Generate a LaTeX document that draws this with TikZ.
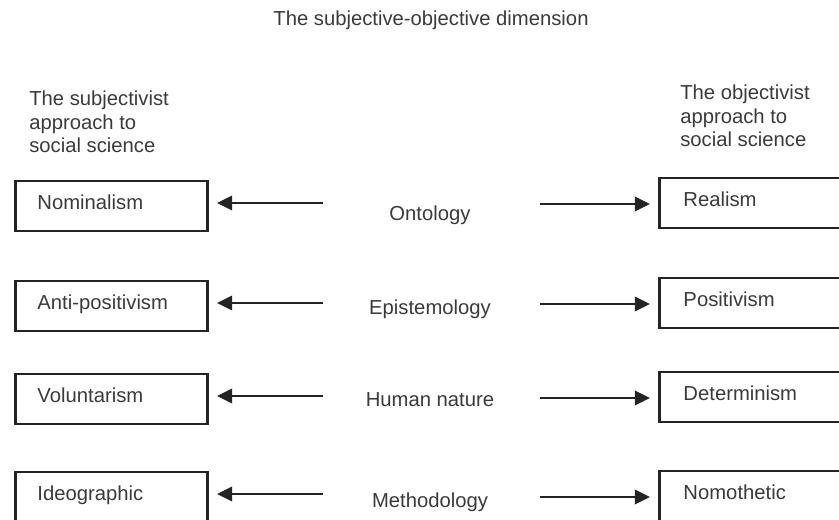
\documentclass[tikz,border=0pt]{standalone}
\usepackage{fontspec}
\setmainfont{Liberation Sans}
\usetikzlibrary{arrows.meta}

\begin{document}
\begin{tikzpicture}[x=0.025cm,y=-0.025cm,
  every node/.style={text=inkgrey,font=\fontsize{14.4}{16.7}\selectfont},
  lbox/.style={draw=linegrey,line width=2.1pt,anchor=west,minimum height=1.25cm,
    text width=3.7cm,inner xsep=0.55cm,align=left,text height=0.75em,text depth=0.25em},
  rbox/.style={lbox,text width=4cm,inner xsep=0.6cm},
  dimlabel/.style={text height=0.75em,text depth=0.25em},
  hdr/.style={anchor=north west,align=left,inner sep=0pt},
  arr/.style={draw=linegrey,line width=1.9pt,-{Triangle[length=0.38cm,width=0.36cm]},shorten >=0.2cm}]
\definecolor{inkgrey}{HTML}{3A3A3A}
\definecolor{linegrey}{HTML}{242424}
\useasboundingbox (0,0) rectangle (839,519);
\clip (0,0) rectangle (839,519);
\node[dimlabel] (title) at (431,22) {The subjective-objective dimension};
\node[hdr] (subj) at (29,91) {The subjectivist\\approach to\\social science};
\node[hdr] (obj) at (680,85) {The objectivist\\approach to\\social science};
  \foreach \lft/\dimn/\rgt/\ly/\my/\ry/\i in {Nominalism/Ontology/Realism/206/217/203/1,
    Anti-positivism/Epistemology/Positivism/306/311/303/2,
    Voluntarism/Human nature/Determinism/399/403/397/3,
    Ideographic/Methodology/Nomothetic/497/504/496/4}
  {  \node[lbox] (l\i) at (14,\ly) {\lft};
     \node[dimlabel] (m\i) at (430,\my) {\dimn};
     \node[rbox] (r\i) at (658,\ry) {\rgt};
     \coordinate (la\i) at (323,\ly-3);
     \coordinate (ra\i) at (540,\ry+1);
     \draw[arr] (la\i) -- (la\i -| l\i.east);
     \draw[arr] (ra\i) -- (ra\i -| r\i.west);}
\end{tikzpicture}
\end{document}
